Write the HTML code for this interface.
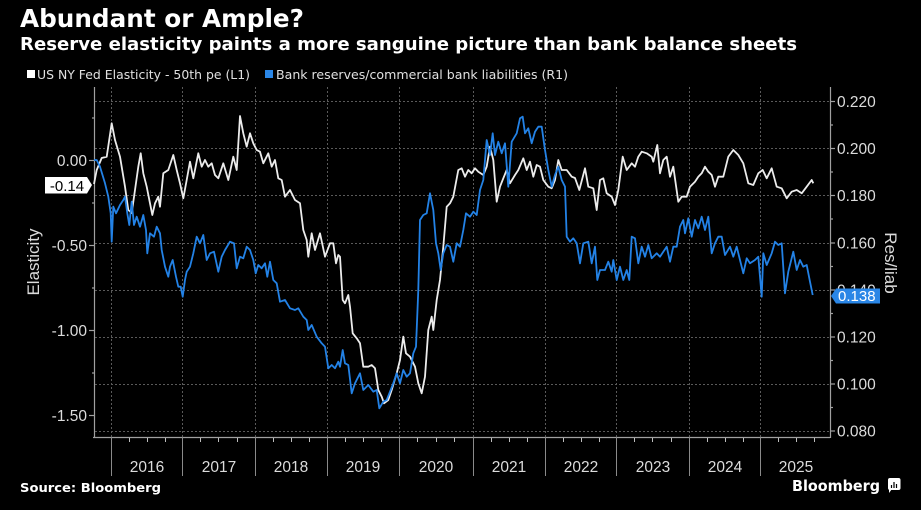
<!DOCTYPE html>
<html>
<head>
<meta charset="utf-8">
<style>
  html, body { margin:0; padding:0; background:#000; }
  svg { display:block; }
</style>
</head>
<body>
<svg width="921" height="510" viewBox="0 0 921 510" xmlns="http://www.w3.org/2000/svg">
  <rect x="0" y="0" width="921" height="510" fill="#000"/>

  <!-- Titles -->
  <text x="20" y="27" font-family="DejaVu Sans, Liberation Sans, sans-serif" font-weight="bold" font-size="25" fill="#fff" textLength="284" lengthAdjust="spacingAndGlyphs">Abundant or Ample?</text>
  <text x="20" y="50" font-family="DejaVu Sans, Liberation Sans, sans-serif" font-weight="bold" font-size="18" fill="#fff" textLength="777" lengthAdjust="spacingAndGlyphs">Reserve elasticity paints a more sanguine picture than bank balance sheets</text>

  <!-- Legend -->
  <rect x="27" y="70" width="8" height="8" fill="#fff"/>
  <text x="37" y="79" font-family="DejaVu Sans, Liberation Sans, sans-serif" font-size="12.5" fill="#e0e0e0" textLength="213" lengthAdjust="spacingAndGlyphs">US NY Fed Elasticity - 50th pe (L1)</text>
  <rect x="265" y="70" width="8" height="8" fill="#2a86e6"/>
  <text x="276" y="79" font-family="DejaVu Sans, Liberation Sans, sans-serif" font-size="12.5" fill="#e0e0e0" textLength="292" lengthAdjust="spacingAndGlyphs">Bank reserves/commercial bank liabilities (R1)</text>

  <!-- Horizontal gridlines -->
  <g stroke="#5a5a5a" stroke-width="1" stroke-dasharray="2,2">
    <line x1="95" y1="101.5" x2="830" y2="101.5"/>
    <line x1="95" y1="148.5" x2="830" y2="148.5"/>
    <line x1="95" y1="195.5" x2="830" y2="195.5"/>
    <line x1="95" y1="243.5" x2="830" y2="243.5"/>
    <line x1="95" y1="290.5" x2="830" y2="290.5"/>
    <line x1="95" y1="337.5" x2="830" y2="337.5"/>
    <line x1="95" y1="384.5" x2="830" y2="384.5"/>
    <line x1="95" y1="431.5" x2="830" y2="431.5"/>
  </g>
  <!-- Vertical gridlines -->
  <g stroke="#5a5a5a" stroke-width="1" stroke-dasharray="2,2">
    <line x1="111.5" y1="87" x2="111.5" y2="437"/>
    <line x1="182.5" y1="87" x2="182.5" y2="437"/>
    <line x1="255.5" y1="87" x2="255.5" y2="437"/>
    <line x1="327.5" y1="87" x2="327.5" y2="437"/>
    <line x1="399.5" y1="87" x2="399.5" y2="437"/>
    <line x1="473.5" y1="87" x2="473.5" y2="437"/>
    <line x1="545.5" y1="87" x2="545.5" y2="437"/>
    <line x1="616.5" y1="87" x2="616.5" y2="437"/>
    <line x1="689.5" y1="87" x2="689.5" y2="437"/>
    <line x1="760.5" y1="87" x2="760.5" y2="437"/>
  </g>

  <!-- Axes -->
  <g stroke="#a0a0a0" stroke-width="1.2" fill="none">
    <line x1="94.5" y1="87" x2="94.5" y2="438"/>
    <line x1="830.5" y1="87" x2="830.5" y2="438"/>
    <line x1="93" y1="437.5" x2="830" y2="437.5"/>
    <line x1="89" y1="160.5" x2="94" y2="160.5"/>
    <line x1="89" y1="245.5" x2="94" y2="245.5"/>
    <line x1="89" y1="330.5" x2="94" y2="330.5"/>
    <line x1="89" y1="415.5" x2="94" y2="415.5"/>
    <line x1="92" y1="118" x2="94" y2="118"/>
    <line x1="92" y1="203" x2="94" y2="203"/>
    <line x1="92" y1="288" x2="94" y2="288"/>
    <line x1="92" y1="373" x2="94" y2="373"/>
    <line x1="830" y1="101.5" x2="835" y2="101.5"/>
    <line x1="830" y1="148.5" x2="835" y2="148.5"/>
    <line x1="830" y1="195.5" x2="835" y2="195.5"/>
    <line x1="830" y1="243" x2="835" y2="243"/>
    <line x1="830" y1="290" x2="835" y2="290"/>
    <line x1="830" y1="337" x2="835" y2="337"/>
    <line x1="830" y1="384" x2="835" y2="384"/>
    <line x1="830" y1="431" x2="835" y2="431"/>
    <line x1="830" y1="125" x2="833" y2="125"/>
    <line x1="830" y1="172" x2="833" y2="172"/>
    <line x1="830" y1="219" x2="833" y2="219"/>
    <line x1="830" y1="266.5" x2="833" y2="266.5"/>
    <line x1="830" y1="313.5" x2="833" y2="313.5"/>
    <line x1="830" y1="360.5" x2="833" y2="360.5"/>
    <line x1="830" y1="407.5" x2="833" y2="407.5"/>
  </g>

  <!-- Year separators -->
  <g stroke="#8a8a8a" stroke-width="1">
    <line x1="111.5" y1="437" x2="111.5" y2="476"/>
    <line x1="182.5" y1="437" x2="182.5" y2="476"/>
    <line x1="255.5" y1="437" x2="255.5" y2="476"/>
    <line x1="327.5" y1="437" x2="327.5" y2="476"/>
    <line x1="399.5" y1="437" x2="399.5" y2="476"/>
    <line x1="473.5" y1="437" x2="473.5" y2="476"/>
    <line x1="545.5" y1="437" x2="545.5" y2="476"/>
    <line x1="616.5" y1="437" x2="616.5" y2="476"/>
    <line x1="689.5" y1="437" x2="689.5" y2="476"/>
    <line x1="760.5" y1="437" x2="760.5" y2="476"/>
  </g>
  <!-- Quarter ticks -->
  <g stroke="#bdbdbd" stroke-width="1">
    <line x1="129.5" y1="438" x2="129.5" y2="442"/><line x1="147.5" y1="438" x2="147.5" y2="442"/><line x1="165.5" y1="438" x2="165.5" y2="442"/>
    <line x1="200.5" y1="438" x2="200.5" y2="442"/><line x1="218.5" y1="438" x2="218.5" y2="442"/><line x1="237.5" y1="438" x2="237.5" y2="442"/>
    <line x1="273.5" y1="438" x2="273.5" y2="442"/><line x1="291.5" y1="438" x2="291.5" y2="442"/><line x1="309.5" y1="438" x2="309.5" y2="442"/>
    <line x1="345.5" y1="438" x2="345.5" y2="442"/><line x1="363.5" y1="438" x2="363.5" y2="442"/><line x1="381.5" y1="438" x2="381.5" y2="442"/>
    <line x1="417.5" y1="438" x2="417.5" y2="442"/><line x1="436.5" y1="438" x2="436.5" y2="442"/><line x1="454.5" y1="438" x2="454.5" y2="442"/>
    <line x1="491.5" y1="438" x2="491.5" y2="442"/><line x1="509.5" y1="438" x2="509.5" y2="442"/><line x1="527.5" y1="438" x2="527.5" y2="442"/>
    <line x1="563.5" y1="438" x2="563.5" y2="442"/><line x1="581.5" y1="438" x2="581.5" y2="442"/><line x1="599.5" y1="438" x2="599.5" y2="442"/>
    <line x1="634.5" y1="438" x2="634.5" y2="442"/><line x1="652.5" y1="438" x2="652.5" y2="442"/><line x1="671.5" y1="438" x2="671.5" y2="442"/>
    <line x1="707.5" y1="438" x2="707.5" y2="442"/><line x1="725.5" y1="438" x2="725.5" y2="442"/><line x1="743.5" y1="438" x2="743.5" y2="442"/>
    <line x1="778.5" y1="438" x2="778.5" y2="442"/><line x1="796.5" y1="438" x2="796.5" y2="442"/><line x1="814.5" y1="438" x2="814.5" y2="442"/>
  </g>

  <!-- Year labels -->
  <g font-family="Liberation Sans, sans-serif" font-size="15.5" fill="#dcdcdc" text-anchor="middle">
    <text x="147" y="472">2016</text>
    <text x="219" y="472">2017</text>
    <text x="291" y="472">2018</text>
    <text x="363" y="472">2019</text>
    <text x="436" y="472">2020</text>
    <text x="509" y="472">2021</text>
    <text x="581" y="472">2022</text>
    <text x="653" y="472">2023</text>
    <text x="725" y="472">2024</text>
    <text x="796" y="472">2025</text>
  </g>

  <!-- Left tick labels -->
  <g font-family="Liberation Sans, sans-serif" font-size="15.5" fill="#dcdcdc" text-anchor="end">
    <text x="87" y="166">0.00</text>
    <text x="87" y="251">-0.50</text>
    <text x="87" y="336">-1.00</text>
    <text x="87" y="421">-1.50</text>
  </g>
  <!-- Right tick labels -->
  <g font-family="Liberation Sans, sans-serif" font-size="15.5" fill="#dcdcdc">
    <text x="837" y="107">0.220</text>
    <text x="837" y="154">0.200</text>
    <text x="837" y="201">0.180</text>
    <text x="837" y="248.5">0.160</text>
    <text x="837" y="295.5">0.140</text>
    <text x="837" y="342.5">0.120</text>
    <text x="837" y="389.5">0.100</text>
    <text x="837" y="436.5">0.080</text>
  </g>

  <!-- Axis titles -->
  <text transform="translate(39,262) rotate(-90)" text-anchor="middle" font-family="Liberation Sans, sans-serif" font-size="17" fill="#dcdcdc">Elasticity</text>
  <text transform="translate(885,263) rotate(90)" text-anchor="middle" font-family="Liberation Sans, sans-serif" font-size="17" fill="#dcdcdc">Res/liab</text>

  <!-- White series -->
  <polyline fill="none" stroke="#ececec" stroke-width="1.8" stroke-linejoin="round" points="94,184 96.7,170 101.7,158 106.7,156.7 111.7,123.3 115,140 120,156.7 125,186.7 128.3,210 131.7,213 135,190 138.3,166.7 140.7,153.3 143.3,173.3 146.7,186.7 150,203.3 152.3,215 155,203.3 158.3,196.7 160,206.7 163.3,173.3 168.3,170 173.3,155 176.7,170 180,183.3 183.3,198.3 186.7,180 190,161.7 193.3,178.3 198.3,153.3 201.7,166.7 205,160 208.3,166.7 211.7,163.3 215,175 218.3,178.3 223.3,163.3 228.3,180 233.3,156.7 236.7,170 240,116 243.3,133.3 246.7,146.7 250,133.3 253.3,143.3 256.7,150 260,151.7 263.3,163.3 268.3,153.3 271.7,166.7 275,160 278.3,178.3 281.7,180 285,196.7 290,190 295,200 300,203.3 303.3,230 306.7,240 308.3,256.7 311.7,233.3 315,250 320,233.3 325,256.7 330,243.3 333.3,243.3 336,263.3 338.3,255 340,256.7 342.7,300 345,303.3 348.3,295 350,306.7 352.7,333.3 356.7,338.3 360,343.3 363.3,366.7 368.3,366.7 371.7,365 375,368.3 378.3,390 381.7,396.7 384,403.3 388.3,400 391.7,390 396.7,373.3 400,360 403.3,336.7 406,353.3 410,356.7 415,366.7 418.3,383.3 421.7,393.3 425,376.7 428.3,330 431.7,316.7 433.3,330 436.7,300 440,280 443.3,246.7 446.7,206.7 450,203.3 453.3,196.7 458.3,170 461.7,168.3 465,176.7 468.3,170 471.7,173.3 475,168.3 478.3,171.7 483.3,175 486.7,166.7 490,146.7 493.3,160 496.7,201.7 500,186.7 503.3,178.3 506.7,170 510,183.3 515,175 518.3,170 523.3,158.3 526.7,170 530,161.7 533.3,176.7 536.7,165 540,166.7 543.3,180 548.3,186.7 551.7,188.3 555,180 558.3,160 561.7,170 566.7,170 571.7,176.7 575,178 579.3,190 585,168.3 588.3,186.7 593.3,188.3 596.7,210 600,180 603.3,178.3 606.7,193.3 611.7,196.7 615,205 618.3,190 622.7,156.7 626.7,170 631.7,163.3 635,166.7 638.3,156.7 641.7,151.7 646.7,153.3 651.7,156.7 653.3,161.7 657.3,145 660,173.3 663.3,160 666.7,156.7 670,176.7 673.3,166.7 678.3,201.7 681.7,196.7 686.7,196.7 690,186.7 695,181.7 698.3,176.7 701.7,173.3 705,166.7 708.3,171.7 711.7,175 715,186.7 718.3,176.7 723.3,176.7 728.3,156.7 733.3,150 738.3,155 743.3,163.3 748.3,183.3 753.3,185 758.3,173.3 762.7,170 766.7,178.3 771.7,168.3 776.7,186.7 781.7,188.3 786.7,198.3 791.7,191.7 796.7,190 801.7,193.3 806.7,186.7 811.7,180 813.3,183.3"/>

  <!-- Blue series -->
  <polyline fill="none" stroke="#2382e6" stroke-width="1.8" stroke-linejoin="round" points="94,160 96.7,160 100,166.7 105,183.3 108.3,196.7 110.7,213.3 111.7,241.7 113.3,206.7 116,213.3 120,205 123.3,200 125,196.7 127.3,213.3 129.3,225 131.7,201.7 134,225 136.7,216.7 140,226.7 143.3,215 146,230 147.3,253.3 150,233.3 154,236.7 156.7,226.7 160,233.3 161.7,250 165,266.7 168.3,276.7 170,266.7 172.7,260 176,276.7 178.3,286.7 180.7,286.7 182.7,296.7 185,280 186.7,271.7 190,266.7 193.3,253.3 196.7,236.7 200,243.3 203.3,235 206.7,260 210,253.3 214,251.7 218.3,271.7 221.7,256.7 225,250 230,241.7 234,243.3 236.7,268.3 240,256.7 243.3,258.3 246.7,246.7 250,250 253.3,260 255.7,273.3 258.3,265 261.7,268.3 265,263.3 267.3,276.7 270,261.7 273.3,280 276.7,283.3 280,301.7 285,300 290,308.3 295,310 298.3,308.3 303.3,316.7 306.7,320 308.3,330 311.7,325 316.7,336.7 321.7,343.3 325,346.7 328.3,368.3 331.7,365 335,368.3 338.3,361.7 340,366.7 342.7,350 345,363.3 348.3,365 351.7,393.3 355,383.3 360,373.3 363.3,390 368.3,385 373.3,391.7 376.7,390 379.3,408.3 383.3,401.7 386.7,400 390,391.7 393.3,383.3 396.7,373.3 400,383.3 403.3,370 406.7,376.7 410,373.3 413.3,353.3 416,346.7 418.3,290 420,220 423.3,215 426.7,213.3 430,193.3 433.3,210 436,243.3 438.3,253.3 440.7,270 443.3,253.3 446.7,245 450,246.7 453.3,261.7 456.7,243.3 460,246.7 463.3,230 466,213.3 470,216.7 473.3,211.7 476.7,215 480,190 483.3,180 486.7,140 490,155 492.7,133.3 495,155 498.3,141.7 501.7,153.3 505,143.3 508.3,186.7 511.7,141.7 516.7,133.3 520,118.3 522.7,116.7 525,133.3 528.3,128.3 531.7,143.3 535,131.7 538.3,126.7 541.7,126.7 545,150 548.3,170 551.7,186.7 555,175 558.3,166.7 561.7,180 565,186.7 566.7,236.7 570,241.7 573.3,238.3 576.7,243.3 580,263.3 583.3,243.3 588.3,241.7 591.7,263.3 595,246.7 597.3,280 600,270 605,270 608.3,261.7 611.7,271.7 613.3,260 616.7,280 620,266.7 623.3,280 626.7,270 629.3,280 631.7,236.7 635,238.3 638.3,263.3 641.7,246.7 645,256.7 648.3,245 651.7,258.3 656.7,253.3 660,256.7 663.3,251.7 666.7,246.7 670,261.7 673.3,246.7 676.7,246.7 680,226.7 683.3,220 685,233.3 688.3,218.3 691.7,236.7 695,220 698.3,228.3 701.7,216.7 705,230 708.3,216.7 711.7,253.3 715,243.3 718.3,236.7 721.7,236.7 725,255 730,246.7 733.3,256.7 736.7,246.7 740,260 743.3,273.3 746.7,258.3 750,263.3 755,260 758.3,256.7 761.7,296.7 763.3,253.3 766.7,265 771.7,253.3 775,241.7 778.3,245 781.7,243.3 785,293.3 788.3,271.7 793.3,251.7 796.7,270 800,260 803.3,266.7 806.7,265 810,281.7 812.7,295"/>

  <!-- Last value labels -->
  <polygon points="45,177 87,177 92,185 87,193.5 45,193.5" fill="#fff"/>
  <text x="67" y="191" text-anchor="middle" font-family="Liberation Sans, sans-serif" font-size="15" fill="#000">-0.14</text>

  <polygon points="831,296 836,288.5 880,288.5 880,303.5 836,303.5" fill="#2a86e6"/>
  <text x="838" y="301" font-family="Liberation Sans, sans-serif" font-size="15" fill="#fff">0.138</text>

  <!-- Footer -->
  <text x="20" y="492" font-family="DejaVu Sans, Liberation Sans, sans-serif" font-weight="bold" font-size="12.5" fill="#fff" textLength="141" lengthAdjust="spacingAndGlyphs">Source: Bloomberg</text>
  <text x="792" y="491" font-family="DejaVu Sans, Liberation Sans, sans-serif" font-weight="bold" font-size="15.5" fill="#fff" textLength="88" lengthAdjust="spacingAndGlyphs">Bloomberg</text>
  <rect x="888" y="478" width="12.5" height="12" rx="2" fill="#fff"/>
  <polygon points="889,489 892,489 889,493" fill="#fff"/>
  <g stroke="#000" stroke-width="1.2">
    <line x1="891.5" y1="488" x2="891.5" y2="485"/>
    <line x1="894" y1="488" x2="894" y2="482"/>
    <line x1="896.5" y1="488" x2="896.5" y2="484"/>
  </g>
</svg>
</body>
</html>
